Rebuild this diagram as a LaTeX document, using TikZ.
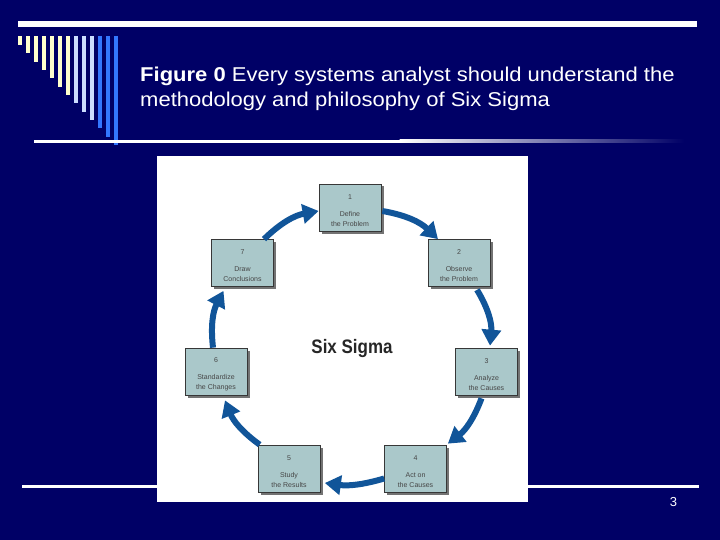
\documentclass[tikz,border=0pt]{standalone}
\usepackage{fontspec}
\setmainfont{Liberation Sans}
\newfontfamily\sixfont[FakeStretch=0.87]{Liberation Sans}
\newfontfamily\titlefont[FakeStretch=1.10]{Liberation Sans}
\usetikzlibrary{arrows.meta,shadows}
\definecolor{navy}{RGB}{0,0,102}
\definecolor{cream}{RGB}{255,255,204}
\definecolor{lblue}{RGB}{204,221,255}
\definecolor{mblue}{RGB}{51,119,255}
\definecolor{boxfill}{RGB}{170,200,202}
\definecolor{boxline}{RGB}{55,55,55}
\definecolor{shadowc}{RGB}{115,115,115}
\definecolor{arrowc}{RGB}{17,85,153}
\definecolor{boxtext}{RGB}{70,70,70}
\begin{document}
\begin{tikzpicture}[x=1pt,y=-1pt,
  stepbox/.style={draw=boxline,line width=0.7pt,fill=boxfill,
    minimum width=62pt,minimum height=47pt,inner sep=0pt,
    drop shadow={shadow xshift=2.5pt,shadow yshift=-2.5pt,fill=shadowc,opacity=1}},
  steptext/.style={text=boxtext,align=center,inner sep=0pt,
    font=\fontsize{7}{10}\selectfont},
  flow/.style={draw=arrowc,line width=6pt,-{Triangle[width=19pt,length=16pt]}},
  titletext/.style={text=white,anchor=base west,inner sep=0pt,
    font=\titlefont\fontsize{20}{25}\selectfont}]
\useasboundingbox (0,0) rectangle (720,540);
\fill[navy] (0,0) rectangle (720,540);
% top bar
\fill[white] (18,21) rectangle (697,27);
% vertical bars
\foreach \i in {0,...,12}{
  \pgfmathsetmacro{\xx}{18+8*\i}
  \pgfmathsetmacro{\yy}{45+8.33*\i}
  \ifnum\i<7 \def\bc{cream}\else\ifnum\i<10 \def\bc{lblue}\else\def\bc{mblue}\fi\fi
  \fill[\bc] (\xx,36) rectangle ({\xx+4},\yy);
}
% title underline
\fill[white] (34,140) rectangle (400,143);
\shade[left color=white,right color=navy] (399.5,140) rectangle (684,143);
% title
\node[titletext] (title1) at (140,82) {\textbf{Figure 0} Every systems analyst should understand the};
\node[titletext] (title2) at (140,107) {methodology and philosophy of Six Sigma};
% bottom line
\fill[white] (22,485) rectangle (699,488);
\node[text=white,font=\fontsize{13}{13}\selectfont,inner sep=0pt] (pg) at (673.5,502.5) {3};
% figure
\fill[white] (157,156) rectangle (528,502);
\node[stepbox] (b1) at (350,207.5) {};
\node[stepbox] (b2) at (459,263) {};
\node[stepbox] (b3) at (486.5,371.5) {};
\node[stepbox] (b4) at (415.5,468.5) {};
\node[stepbox] (b5) at (289,468.5) {};
\node[stepbox] (b6) at (216,371.5) {};
\node[stepbox] (b7) at (242.5,263) {};
\node[steptext,yshift=-3pt] (t1) at (b1.center) {1\\[7pt]Define\\the Problem};
\node[steptext,yshift=-3pt] (t2) at (b2.center) {2\\[7pt]Observe\\the Problem};
\node[steptext,yshift=-3pt] (t3) at (b3.center) {3\\[7pt]Analyze\\the Causes};
\node[steptext,yshift=-3pt] (t4) at (b4.center) {4\\[7pt]Act on\\the Causes};
\node[steptext,yshift=-3pt] (t5) at (b5.center) {5\\[7pt]Study\\the Results};
\node[steptext,yshift=-3pt] (t6) at (b6.center) {6\\[7pt]Standardize\\the Changes};
\node[steptext,yshift=-3pt] (t7) at (b7.center) {7\\[7pt]Draw\\Conclusions};
\node[anchor=base,inner sep=0pt,text=black!85,font=\sixfont\bfseries\fontsize{19.5}{20}\selectfont] (six) at (352,353) {Six Sigma};
% arrows
\draw[flow] ([xshift=21.5pt]b7.north) to[bend left=17] ([yshift=-3.5pt]b1.west);
\draw[flow] ([xshift=1pt,yshift=-3.5pt]b1.east) to[bend left=17] ([xshift=-21pt]b2.north);
\draw[flow] ([xshift=18pt,yshift=-3pt]b2.south) to[bend left=18] ([xshift=3.5pt,yshift=2pt]b3.north);
\draw[flow] ([xshift=-5pt,yshift=-3pt]b3.south) to[bend left=16] ([shift={(1pt,1pt)}]b4.north east);
\draw[flow] ([yshift=-10pt]b4.west) to[bend left=12] ([shift={(4.5pt,-14.5pt)}]b5.east);
\draw[flow] ([shift={(2pt,0pt)}]b5.north west) to[bend left=16] ([xshift=9pt,yshift=-5pt]b6.south);
\draw[flow] ([xshift=-3pt]b6.north) to[bend left=17] ([xshift=-19pt,yshift=-4pt]b7.south);
\end{tikzpicture}
\end{document}
